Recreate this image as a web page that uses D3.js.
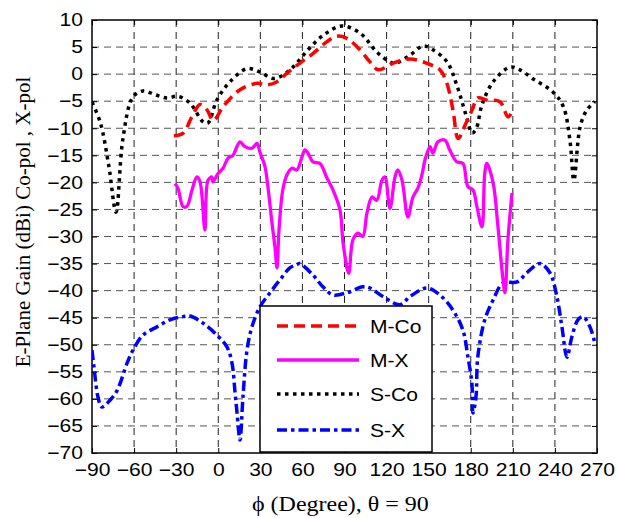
<!DOCTYPE html>
<html><head><meta charset="utf-8">
<script src="https://cdn.jsdelivr.net/npm/d3@7"></script>
<style>body{margin:0;background:#fff}svg{display:block}</style>
</head><body>
<svg id="c" width="617" height="518"></svg>
<script>
const xTicks = [-90,-60,-30,0,30,60,90,120,150,180,210,240,270];
const yTicks = [10,5,0,-5,-10,-15,-20,-25,-30,-35,-40,-45,-50,-55,-60,-65,-70];
const seriesNames = ["M-Co","M-X","S-Co","S-X"];

const mCoPhi  = [-31.6,-25,-19,-13,-8,-3.5,3.5,15.5,27.6,34.7,41.9,49,58,67.5,77.5,84.6,91.7,101,108,114,124.5,136.7,148.8,158,163,167.3,171,176,181,185,191.5,200.8,206.5,209];
const mCoGain = [-11.4,-10.9,-8,-5.6,-6.6,-8.6,-6,-2.9,-1.7,-2,-1.4,0.2,2,3.8,6,7.0,6.6,4.5,2.3,0.8,2,2.8,2,0.8,-1.7,-6.6,-11.9,-9.4,-6.6,-4.4,-4.8,-5.1,-7.9,-7.2];

const mXPhi  = [-30.8,-28.7,-25,-22.3,-18.7,-15.2,-13,-9.5,-7.3,-4.5,-3.8,0,3.4,7,10.5,13.3,15.5,19,24,27.6,29.7,33.3,35.4,38.3,40.4,41.9,43.3,46,49,52.5,56,59.7,61.8,64,67.5,72.5,77.5,81.8,86.8,89,93,96,99.6,103,106,109.6,113,116.7,118.8,122.4,126,128,131,135.2,138.8,142.4,145.2,147.3,151,153,156.6,161.6,165,170,174.4,178,181.6,184.4,188,190,191.5,196,199.4,203,204.4,206.5,209.4];
const mXGain = [-20.2,-21.1,-24.5,-24.4,-21.4,-19,-19.9,-28.8,-19.6,-19,-19.9,-18.3,-17.4,-15.5,-15,-13.4,-12.5,-13.4,-13.7,-12.8,-14.4,-17.1,-20.8,-27.5,-31.9,-35.8,-28.8,-21.4,-18.6,-17.4,-17.7,-15.3,-14,-14.6,-16.2,-16.5,-19.2,-21.4,-25.1,-31.2,-36.8,-30.6,-29.4,-30,-25.7,-22.7,-23.3,-19.6,-19,-24.8,-19,-17.7,-19.6,-26.4,-22.7,-21,-18.6,-15.9,-13.4,-14.6,-12.5,-12.2,-14,-16.2,-16.5,-20.8,-21.4,-24.5,-28.2,-18.3,-16.5,-20.2,-28.2,-38,-40.4,-30.6,-22];

const sCoPhi  = [-90,-84,-78,-72.9,-68,-60.8,-53.6,-45,-36.6,-28.7,-20,-10.9,-7.3,-1,8.4,20.5,29.7,39,46,53.3,64,75,88,101,113,122,126,136.7,146,153,163,170,177,181,184,188,196,208,215,224,238.6,246,250.7,253.5,258,262.8,268.5];
const sCoGain = [-5.2,-9,-17,-25.5,-12,-4.2,-3.1,-3.8,-4.4,-4.1,-5.4,-8.8,-9,-4.8,-1.4,1,0.4,-0.8,-0.2,1.3,4.5,7.2,8.9,7.6,4.1,2.3,2,3.5,5.2,4.5,2.3,-2,-7.9,-10.9,-10,-5.7,-1.4,1.3,0.8,-0.8,-3.3,-6,-12.2,-19.6,-9.7,-6.6,-5.1];

const sXPhi  = [-90,-88.6,-85.7,-83,-77,-72,-65,-60.8,-53.6,-43.7,-34.4,-25,-20,-10.9,-1,6.2,9.8,12,13.4,15.5,17.6,20.5,24,29.7,36.9,44,51,56,58,67.5,74.6,81.8,91.7,103,108,117.4,129.5,136.7,148.8,158,167.3,174.4,178,180.8,181.6,183.7,185,190,196,203,213,220,229.3,236.4,241.4,245,248.6,252,256.4,260,265,268.5];
const sXGain = [-51,-54.1,-59.7,-61.5,-60.2,-58.4,-53.4,-51,-48.2,-46.7,-45.4,-44.8,-44.7,-46,-48.2,-50.4,-53.4,-58.9,-62.6,-67.6,-59.7,-51,-46.7,-43,-40.4,-38,-35.8,-35.2,-35,-37.1,-39.3,-40.8,-40.4,-39.3,-39.5,-41.1,-42.6,-41.1,-39.5,-40.8,-43.6,-47.3,-52.3,-57.1,-62.6,-59.7,-52.3,-45.4,-41.7,-38.6,-38.4,-36.7,-35,-36.7,-41.1,-46.7,-52.3,-48.6,-45.4,-44.8,-46.7,-49.7];

const L = 92, R = 597, T = 20, B = 453;
const STRETCH = 1.17;
const x = d3.scaleLinear().domain([-90,270]).range([L,R]);
const y = d3.scaleLinear().domain([-70,10]).range([B,T]);
const svg = d3.select("#c");

function stretch(sel){
  sel.each(function(){
    const w = this.getComputedTextLength();
    d3.select(this).attr("textLength", w*STRETCH).attr("lengthAdjust","spacingAndGlyphs");
  });
}

// grid
const g = svg.append("g");
g.selectAll(".vg").data(xTicks.slice(1,-1)).enter().append("line")
  .attr("x1",d=>x(d)).attr("x2",d=>x(d)).attr("y1",T).attr("y2",B)
  .attr("stroke","#222").attr("stroke-width",1).attr("stroke-dasharray","7,5");
g.selectAll(".hg").data(yTicks.slice(1,-1)).enter().append("line")
  .attr("y1",d=>y(d)).attr("y2",d=>y(d)).attr("x1",L).attr("x2",R)
  .attr("stroke","#555").attr("stroke-width",1).attr("stroke-dasharray","7,5");

// axes
const fontSans = "Arial, 'Liberation Sans', sans-serif";
const xAxis = d3.axisBottom(x).tickValues(xTicks).tickSize(-5).tickPadding(10).tickFormat(d3.format("d"));
const yAxis = d3.axisLeft(y).tickValues(yTicks).tickSize(-5).tickPadding(9).tickFormat(d3.format("d"));
const xa = svg.append("g").attr("transform",`translate(0,${B})`).call(xAxis);
const ya = svg.append("g").attr("transform",`translate(${L},0)`).call(yAxis);
const xa2 = svg.append("g").attr("transform",`translate(0,${T})`).call(d3.axisTop(x).tickValues(xTicks).tickSize(-5).tickFormat(""));
const ya2 = svg.append("g").attr("transform",`translate(${R},0)`).call(d3.axisRight(y).tickValues(yTicks).tickSize(-5).tickFormat(""));
[xa,ya,xa2,ya2].forEach(a=>{
  a.select(".domain").remove();
  a.selectAll("line").attr("stroke","#000");
  a.selectAll("text").attr("font-family",fontSans).attr("font-size",18).attr("fill","#000");
});
stretch(xa.selectAll("text"));
stretch(ya.selectAll("text"));
svg.append("rect").attr("x",L).attr("y",T).attr("width",R-L).attr("height",B-T)
  .attr("fill","none").attr("stroke","#000").attr("stroke-width",1.5);

// series
const styles = [
  {phi:mCoPhi, gain:mCoGain, color:"#ff0000", dash:"11,6", w:3.5},
  {phi:mXPhi, gain:mXGain, color:"#ff00ff", dash:null, w:3.3},
  {phi:sCoPhi, gain:sCoGain, color:"#000000", dash:"3.5,4.5", w:3.5},
  {phi:sXPhi, gain:sXGain, color:"#0000ff", dash:"10,4,3.5,4", w:3.5}
];
const line = d3.line().x(d=>x(d[0])).y(d=>y(d[1])).curve(d3.curveCatmullRom.alpha(0.5));
svg.append("clipPath").attr("id","pc").append("rect").attr("x",L).attr("y",T).attr("width",R-L).attr("height",B-T);
const order = [3,1,2,0];
order.forEach(i=>{
  const s = styles[i];
  const pts = s.phi.map((p,k)=>[p,s.gain[k]]);
  svg.append("path").attr("d",line(pts)).attr("fill","none")
    .attr("stroke",s.color).attr("stroke-width",s.w)
    .attr("stroke-dasharray",s.dash).attr("clip-path","url(#pc)");
});

// legend
const lg = svg.append("g");
lg.append("rect").attr("x",260).attr("y",306).attr("width",172).attr("height",146)
  .attr("fill","#fff").attr("stroke","#000").attr("stroke-width",1.5);
const legY = [326,360,394,430];
seriesNames.forEach((n,i)=>{
  const s = styles[i];
  lg.append("line").attr("x1",277).attr("x2",359).attr("y1",legY[i]).attr("y2",legY[i])
    .attr("stroke",s.color).attr("stroke-width",s.w).attr("stroke-dasharray",s.dash);
  lg.append("text").attr("x",370).attr("y",legY[i]+6.5).text(n)
    .attr("font-family",fontSans).attr("font-size",18).attr("fill","#000");
});
stretch(lg.selectAll("text"));

// titles
const fontSerif = "'Times New Roman', 'Liberation Serif', serif";
const xt = svg.append("text").attr("x",252).attr("y",511)
  .attr("font-family",fontSerif).attr("font-size",20.5).text("ϕ (Degree), θ = 90");
stretch(xt);
svg.append("text").attr("transform","translate(30,222) rotate(-90)").attr("text-anchor","middle")
  .attr("font-family",fontSerif).attr("font-size",21).text("E-Plane Gain (dBi) Co-pol , X-pol");
</script>
</body></html>
